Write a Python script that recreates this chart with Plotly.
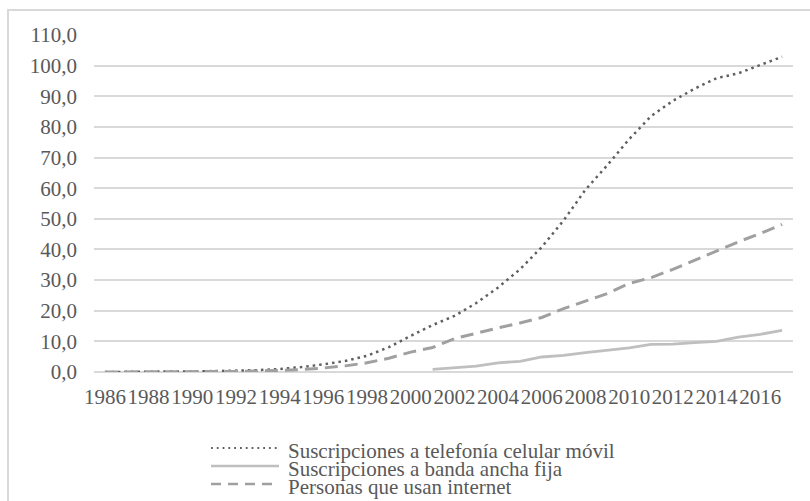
import plotly.graph_objects as go

# Years on the category axis
years = list(range(1986, 2018))
tick_years = [str(y) for y in range(1986, 2017, 2)]

# Per 100 inhabitants
mobile = [0.0, 0.0, 0.1, 0.1, 0.2, 0.3, 0.4, 0.6, 1.0, 1.6, 2.5, 3.6, 5.3, 8.1,
          11.8, 15.3, 18.3, 22.5, 27.6, 33.5, 40.8, 49.5, 59.5, 67.5, 76.0,
          83.5, 88.5, 92.5, 95.9, 97.5, 100.2, 102.9]
broadband = [None] * 15 + [0.85, 1.4, 1.9, 3.0, 3.5, 4.9, 5.4, 6.3, 7.1, 7.9,
                           9.0, 9.1, 9.6, 10.0, 11.4, 12.3, 13.6]
internet = [0.0, 0.0, 0.0, 0.0, 0.1, 0.1, 0.2, 0.3, 0.5, 0.8, 1.3, 2.0, 3.0, 4.5,
            6.5, 8.0, 10.9, 12.7, 14.4, 16.0, 17.8, 20.7, 23.1, 25.6, 28.9,
            30.8, 33.5, 36.5, 39.4, 42.5, 45.2, 48.2]

series_names = ["Suscripciones a telefonía celular móvil",
                "Suscripciones a banda ancha fija",
                "Personas que usan internet"]

W, H = 810, 501
L, R, T, B = 94, 17, 35, 129
PW, PH = W - L - R, H - T - B

FONT = "Liberation Serif"
TXT = "#595959"
GRID = "#d9d9d9"

def px(x):
    return (x - L) / PW

def py(y):
    return (H - B - y) / PH

styles = [
    dict(color="#5f5f5f", width=2.5, dash="2.5px,4px"),
    dict(color="#bfbfbf", width=2.8, dash="solid"),
    dict(color="#a0a0a0", width=3, dash="13px,7px"),
]

idx = list(range(len(years)))
fig = go.Figure()
for name, vals, st in zip(series_names, [mobile, broadband, internet], styles):
    fig.add_trace(go.Scatter(x=idx, y=vals, mode="lines", name=name,
                             line=st, connectgaps=False,
                             hoverinfo="skip", showlegend=False))

# Outer chart frame (extends past the right and bottom edges)
shapes = [dict(type="rect", xref="paper", yref="paper",
               x0=px(8), x1=px(W + 20), y0=py(10), y1=py(H + 30),
               line=dict(color=GRID, width=2), fillcolor="rgba(0,0,0,0)",
               layer="below")]

# Legend drawn as sample lines + text
legend_rows = [448, 466, 484]
legend_styles = [
    dict(color="#5f5f5f", width=1.8, dash="1.8px,4px"),
    dict(color="#bfbfbf", width=2.5, dash="solid"),
    dict(color="#a0a0a0", width=2.5, dash="10px,7px"),
]
annotations = []
for name, yrow, st in zip(series_names, legend_rows, legend_styles):
    shapes.append(dict(type="line", xref="paper", yref="paper",
                       x0=px(211), x1=px(279), y0=py(yrow), y1=py(yrow),
                       line=st))
    annotations.append(dict(xref="paper", yref="paper", x=px(286),
                            y=py(yrow + 3), xanchor="left", yanchor="middle",
                            text=name, showarrow=False,
                            font=dict(family=FONT, size=21, color=TXT)))

fig.update_layout(
    width=W, height=H,
    margin=dict(l=L, r=R, t=T, b=B, pad=0),
    paper_bgcolor="white", plot_bgcolor="white",
    separators=",.",
    font=dict(family=FONT, size=21, color=TXT),
    shapes=shapes, annotations=annotations,
    showlegend=False,
)
fig.update_xaxes(range=[-0.5, len(years) - 0.5],
                 tickmode="array", tickvals=idx[::2], ticktext=tick_years,
                 tickangle=0, showgrid=False, zeroline=False, showline=False,
                 ticks="", ticklabelstandoff=10,
                 tickfont=dict(family=FONT, size=21, color=TXT))
fig.update_yaxes(range=[0, 110], dtick=10, tick0=0, tickformat=".1f",
                 showgrid=True, gridcolor=GRID, gridwidth=2,
                 zeroline=True, zerolinecolor=GRID, zerolinewidth=2,
                 showline=False, ticks="", ticklabelstandoff=16,
                 tickfont=dict(family=FONT, size=21, color=TXT))

fig.write_html("out.html")
